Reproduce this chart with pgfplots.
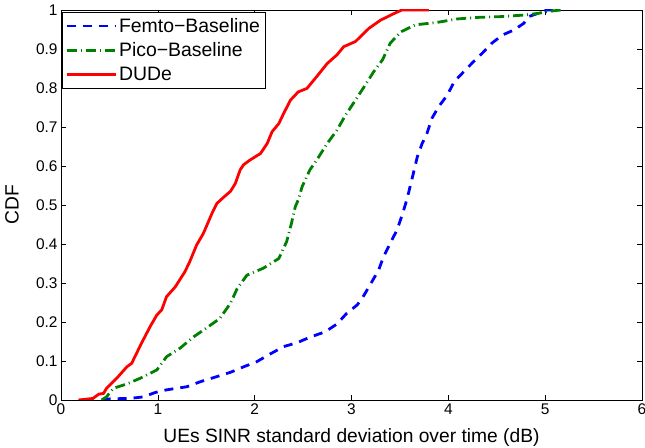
\documentclass[border=0pt]{standalone}
\usepackage{fontspec}
\setmainfont{Liberation Sans}
\usepackage{pgfplots}
\pgfplotsset{compat=1.18}

\definecolor{mgreen}{rgb}{0,0.5,0}

\begin{document}
\begin{tikzpicture}
\begin{axis}[
    at={(0,0)}, anchor=south west,
    scale only axis,
    width=581bp, height=390bp,
    xmin=0, xmax=6, ymin=0, ymax=1,
    xtick={0,1,2,3,4,5,6},
    ytick={0,0.1,0.2,0.3,0.4,0.5,0.6,0.7,0.8,0.9,1},
    tick align=inside,
    major tick length=5bp,
    axis line style={line width=0.8bp},
    every tick/.style={black, line width=0.6bp},
    tick label style={font=\fontsize{15.5}{18}\selectfont},
    /pgf/number format/assume math mode=true,
    xlabel={UEs SINR standard deviation over time (dB)},
    ylabel={CDF},
    label style={font=\fontsize{19.3}{22}\selectfont},
    xlabel style={at={(axis description cs:0.5,-0.095)}, anchor=center},
    ylabel style={at={(axis description cs:-0.0843,0.5)}, anchor=center},
    legend cell align=left,
    legend style={at={(axis description cs:0.0017,0.995)}, anchor=north west,
        draw=black, line width=0.6bp,
        font=\fontsize{19.5}{22}\selectfont,
        inner xsep=3bp, inner ysep=4bp, row sep=5bp},
    legend image code/.code={\draw[#1] (0bp,0bp) -- (49bp,0bp);},
]

% Femto-Baseline
\addplot[blue, line width=2.8bp, dash pattern=on 9bp off 7bp]
coordinates {
    (0.42,0) (0.51,0.003) (0.71,0.004) (0.85,0.008) (0.97,0.019) (1.09,0.026)
    (1.30,0.034) (1.44,0.047) (1.61,0.06) (1.75,0.071) (1.885,0.085) (2.02,0.098)
    (2.16,0.118) (2.30,0.137) (2.44,0.147) (2.57,0.161) (2.73,0.175) (2.85,0.195)
    (2.95,0.222) (3.06,0.244) (3.13,0.269) (3.21,0.303) (3.28,0.333) (3.33,0.367)
    (3.40,0.402) (3.47,0.436) (3.52,0.472) (3.56,0.504) (3.59,0.532) (3.63,0.572)
    (3.68,0.624) (3.73,0.658) (3.78,0.684) (3.83,0.722) (3.90,0.752) (3.99,0.782)
    (4.06,0.816) (4.16,0.842) (4.25,0.865) (4.35,0.889) (4.45,0.915) (4.56,0.936)
    (4.68,0.949) (4.78,0.966) (4.83,0.983) (4.92,0.991) (5.02,1.0) (5.15,1.0)
};
\addlegendentry{Femto−Baseline}

% Pico-Baseline
\addplot[mgreen, line width=2.8bp, dash pattern=on 10bp off 4bp on 1bp off 4bp]
coordinates {
    (0.42,0) (0.47,0.008) (0.54,0.03) (0.68,0.041) (0.82,0.056) (0.99,0.077)
    (1.09,0.111) (1.23,0.133) (1.37,0.162) (1.51,0.186) (1.64,0.209) (1.75,0.248)
    (1.82,0.286) (1.92,0.32) (2.09,0.338) (2.25,0.363) (2.33,0.406) (2.38,0.453)
    (2.42,0.496) (2.45,0.513) (2.49,0.547) (2.57,0.59) (2.64,0.615) (2.75,0.658)
    (2.85,0.692) (2.94,0.731) (3.02,0.761) (3.13,0.803) (3.23,0.842) (3.32,0.872)
    (3.40,0.915) (3.51,0.944) (3.66,0.962) (3.88,0.968) (4.09,0.977) (4.30,0.981)
    (4.54,0.983) (4.78,0.987) (4.92,0.991) (5.02,0.996) (5.16,1.0)
};
\addlegendentry{Pico−Baseline}

% DUDe
\addplot[red, line width=2.8bp]
coordinates {
    (0.18,0) (0.33,0.004) (0.39,0.015) (0.44,0.017) (0.47,0.03) (0.58,0.057)
    (0.68,0.085) (0.73,0.094) (0.83,0.145) (0.92,0.188) (0.99,0.218) (1.04,0.231)
    (1.09,0.265) (1.18,0.29) (1.28,0.329) (1.33,0.355) (1.40,0.397) (1.47,0.427)
    (1.56,0.479) (1.61,0.504) (1.68,0.52) (1.75,0.535) (1.80,0.555) (1.85,0.59)
    (1.885,0.603) (1.95,0.615) (2.06,0.632) (2.13,0.658) (2.18,0.688) (2.25,0.709)
    (2.30,0.735) (2.37,0.769) (2.45,0.79) (2.54,0.799) (2.64,0.829) (2.75,0.863)
    (2.85,0.885) (2.92,0.906) (3.04,0.919) (3.18,0.953) (3.30,0.974) (3.44,0.991)
    (3.52,1.0) (3.80,1.0)
};
\addlegendentry{DUDe}

\end{axis}
\pgfresetboundingbox
\path[use as bounding box] (-61bp,-48bp) rectangle (584bp,400bp);
\end{tikzpicture}
\end{document}
